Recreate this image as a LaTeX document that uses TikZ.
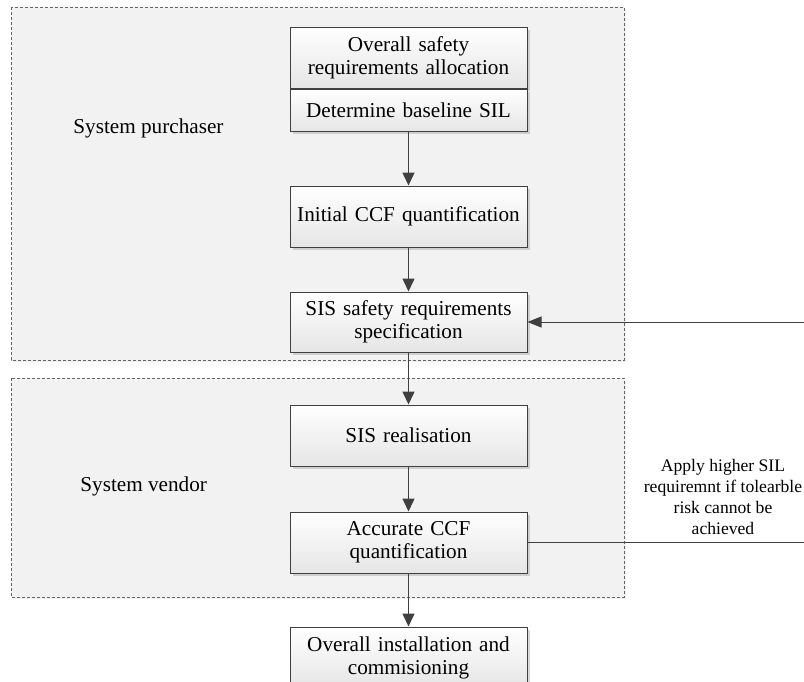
\documentclass[tikz,border=0pt]{standalone}
\usepackage{fontspec}
\setmainfont{Liberation Serif}
\usetikzlibrary{positioning}
\usetikzlibrary{arrows.meta}
\usetikzlibrary{shadows}
\tikzset{basic/.style={draw=black!75,line width=0.5pt,top color=white,bottom color=black!10,drop shadow={shadow xshift=1.3pt,shadow yshift=-1.3pt,opacity=0.3},text width=114.5pt,inner xsep=2pt,inner ysep=1pt,align=center,font=\fontsize{10.6}{11.5}\selectfont}}
\tikzset{stage/.style={basic,minimum height=30.5pt}}
\tikzset{group/.style={draw=black!60,dash pattern=on 1.5pt off 1pt,fill=black!5,line width=0.4pt,drop shadow={shadow xshift=1pt,shadow yshift=-1pt,opacity=0.12}}}
\tikzset{party/.style={anchor=west,inner sep=0pt,font=\fontsize{10.6}{11.5}\selectfont}}
\tikzset{note/.style={align=center,inner sep=0pt,font=\fontsize{8.8}{10.5}\selectfont}}
\tikzset{flow/.style={draw=black!75,line width=0.75pt,-{Triangle[length=6.5pt,width=6pt]}}}
\tikzset{loop/.style={draw=black!75,line width=0.5pt}}

\begin{document}
\begin{tikzpicture}[x=0.5pt,y=-0.5pt]
    \useasboundingbox (0,0) rectangle (804,681);
    % groups
    \path[group] (11,7) rectangle (624,360);
    \path[group] (11,378) rectangle (624,597);
    \node[party] (buyer) at (73,128) {System purchaser};
    \node[party] (vendor) at (80,486) {System vendor};
    % stages
    \node[stage] (ovr) at (408.5,57.5) {Overall safety\\requirements allocation};
    \node[basic,minimum height=21pt,below=0pt of ovr] (base) {Determine baseline SIL};
    \node[stage,below=27pt of base] (init) {Initial CCF quantification};
    \node[stage,minimum height=30pt,below=22pt of init] (spec) {SIS safety requirements\\specification};
    \node[stage,below=26pt of spec] (real) {SIS realisation};
    \node[stage,below=22.5pt of real] (acc) {Accurate CCF\\quantification};
    \node[stage,below=26.5pt of acc] (inst) {Overall installation and\\commisioning};
        \path[flow] (base) -- (init);
        \path[flow] (init) -- (spec);
        \path[flow] (spec) -- (real);
        \path[flow] (real) -- (acc);
        \path[flow] (acc) -- (inst);
    % feedback
    \coordinate (rim) at (804,0);
    \node[note] (apply) at (723,497) {Apply higher SIL\\requiremnt if tolearble\\risk cannot be\\achieved};
        \path[loop] (acc.east) -- (acc.east -| rim);
        \path[loop,-{Triangle[length=7pt,width=5.5pt]}] (spec.east -| rim) -- (spec.east);
\end{tikzpicture}
\end{document}
